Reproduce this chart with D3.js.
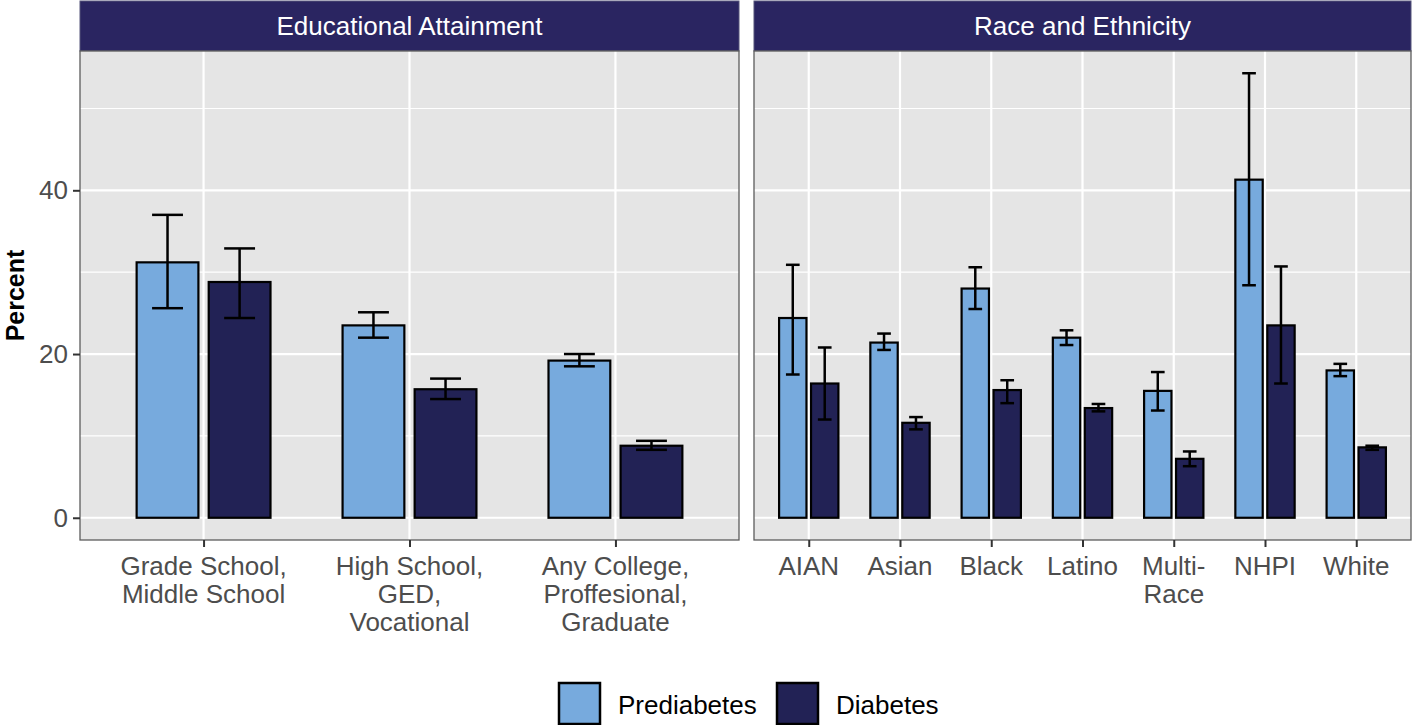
<!DOCTYPE html>
<html>
<head>
<meta charset="utf-8">
<script src="https://cdn.jsdelivr.net/npm/d3@7"></script>
<style>
  body { margin: 0; background: #fff; }
  svg text { font-family: "Liberation Sans", Arial, sans-serif; }
</style>
</head>
<body>
<div id="chart"></div>
<script>
// ---- data ----
const eduCats = ["Grade School,\nMiddle School", "High School,\nGED,\nVocational", "Any College,\nProffesional,\nGraduate"];
const eduPre   = [31.2, 23.5, 19.2];
const eduPreLo = [25.6, 22.0, 18.5];
const eduPreHi = [37.0, 25.1, 20.0];
const eduDia   = [28.8, 15.7, 8.8];
const eduDiaLo = [24.4, 14.5, 8.3];
const eduDiaHi = [32.9, 17.0, 9.4];

const raceCats = ["AIAN", "Asian", "Black", "Latino", "Multi-\nRace", "NHPI", "White"];
const racePre   = [24.4, 21.4, 28.0, 22.0, 15.5, 41.3, 18.0];
const racePreLo = [17.5, 20.5, 25.5, 21.1, 13.1, 28.4, 17.3];
const racePreHi = [30.9, 22.5, 30.6, 22.9, 17.8, 54.3, 18.8];
const raceDia   = [16.4, 11.6, 15.6, 13.4, 7.2, 23.5, 8.6];
const raceDiaLo = [12.0, 10.8, 14.0, 13.0, 6.3, 16.4, 8.3];
const raceDiaHi = [20.8, 12.3, 16.8, 13.9, 8.1, 30.7, 8.8];

const seriesNames = ["Prediabetes", "Diabetes"];
const seriesColors = ["#77aadd", "#222255"];
const yTicks = [0, 20, 40];
const yMinor = [10, 30, 50];

const facetTitles = ["Educational Attainment", "Race and Ethnicity"];

// ---- build rows ----
function rows(cats, pre, preLo, preHi, dia, diaLo, diaHi) {
	const out = [];
	cats.forEach((c, i) => {
		out.push({cat: c, s: 0, v: pre[i], lo: preLo[i], hi: preHi[i]});
		out.push({cat: c, s: 1, v: dia[i], lo: diaLo[i], hi: diaHi[i]});
	});
	return out;
}
const facets = [
	{title: facetTitles[0], cats: eduCats, data: rows(eduCats, eduPre, eduPreLo, eduPreHi, eduDia, eduDiaLo, eduDiaHi), x0: 80, x1: 739},
	{title: facetTitles[1], cats: raceCats, data: rows(raceCats, racePre, racePreLo, racePreHi, raceDia, raceDiaLo, raceDiaHi), x0: 754, x1: 1411}
];

const width = 1412, height = 725,
	stripTop = 1, panelTop = 51, panelBottom = 540,
	fontSize = 26;

const allHi = d3.max(facets.flatMap(f => f.data.map(d => d.hi)));
const pad = allHi * 0.05;

const y = d3.scaleLinear()
	.domain([-pad, allHi + pad])
	.range([panelBottom, panelTop]);

const svg = d3.select("#chart")
	.append("svg")
	.attr("width", width)
	.attr("height", height);

facets.forEach(f => {
	const x = d3.scalePoint()
		.domain(f.cats)
		.range([f.x0, f.x1])
		.padding(0.6);
	const step = x.step();

	// strip
	svg.append("rect")
		.attr("x", f.x0).attr("y", stripTop)
		.attr("width", f.x1 - f.x0).attr("height", panelTop - stripTop)
		.attr("fill", "#2a2561")
		.attr("stroke", "#55557a").attr("stroke-width", 1);
	svg.append("text")
		.attr("x", (f.x0 + f.x1) / 2)
		.attr("y", (stripTop + panelTop) / 2 + 9)
		.attr("text-anchor", "middle")
		.attr("fill", "#fff")
		.style("font-size", fontSize + "px")
		.text(f.title);

	// panel background
	const g = svg.append("g");
	g.append("rect")
		.attr("x", f.x0).attr("y", panelTop)
		.attr("width", f.x1 - f.x0).attr("height", panelBottom - panelTop)
		.attr("fill", "#e5e5e5");

	g.selectAll(".minor").data(yMinor).enter().append("line")
		.attr("x1", f.x0).attr("x2", f.x1)
		.attr("y1", d => y(d)).attr("y2", d => y(d))
		.attr("stroke", "#fff").attr("stroke-width", 1.1);
	g.selectAll(".major").data(yTicks).enter().append("line")
		.attr("x1", f.x0).attr("x2", f.x1)
		.attr("y1", d => y(d)).attr("y2", d => y(d))
		.attr("stroke", "#fff").attr("stroke-width", 2.2);
	g.selectAll(".vmajor").data(f.cats).enter().append("line")
		.attr("x1", d => x(d)).attr("x2", d => x(d))
		.attr("y1", panelTop).attr("y2", panelBottom)
		.attr("stroke", "#fff").attr("stroke-width", 2.2);

	// bars
	const off = s => (s === 0 ? -0.175 : 0.175) * step;
	g.selectAll(".bar").data(f.data).enter().append("rect")
		.attr("x", d => x(d.cat) + off(d.s) - 0.15 * step)
		.attr("width", 0.3 * step)
		.attr("y", d => y(d.v))
		.attr("height", d => y(0) - y(d.v))
		.attr("fill", d => seriesColors[d.s])
		.attr("stroke", "#000").attr("stroke-width", 2.2);

	// error bars
	const eb = g.selectAll(".eb").data(f.data).enter().append("g")
		.attr("stroke", "#000").attr("stroke-width", 2.5);
	eb.append("line")
		.attr("x1", d => x(d.cat) + off(d.s)).attr("x2", d => x(d.cat) + off(d.s))
		.attr("y1", d => y(d.lo)).attr("y2", d => y(d.hi));
	eb.append("line")
		.attr("x1", d => x(d.cat) + off(d.s) - 0.075 * step).attr("x2", d => x(d.cat) + off(d.s) + 0.075 * step)
		.attr("y1", d => y(d.lo)).attr("y2", d => y(d.lo));
	eb.append("line")
		.attr("x1", d => x(d.cat) + off(d.s) - 0.075 * step).attr("x2", d => x(d.cat) + off(d.s) + 0.075 * step)
		.attr("y1", d => y(d.hi)).attr("y2", d => y(d.hi));

	// panel border
	g.append("rect")
		.attr("x", f.x0).attr("y", panelTop)
		.attr("width", f.x1 - f.x0).attr("height", panelBottom - panelTop)
		.attr("fill", "none")
		.attr("stroke", "#5c5c5c").attr("stroke-width", 1.3);

	// x axis
	const xAxis = svg.append("g")
		.attr("transform", `translate(0,${panelBottom})`)
		.call(d3.axisBottom(x).tickSize(7).tickFormat(""));
	xAxis.select(".domain").remove();
	xAxis.selectAll(".tick line").attr("stroke", "#333").attr("stroke-width", 2);
	f.cats.forEach(c => {
		const t = svg.append("text")
			.attr("x", x(c))
			.attr("y", panelBottom + 35)
			.attr("text-anchor", "middle")
			.attr("fill", "#4d4d4d")
			.style("font-size", fontSize + "px");
		c.split("\n").forEach((line, i) => {
			t.append("tspan").attr("x", x(c)).attr("dy", i === 0 ? 0 : 28).text(line);
		});
	});
});

// y axis (left panel only)
const yAxis = svg.append("g")
	.attr("transform", `translate(${facets[0].x0},0)`)
	.call(d3.axisLeft(y).tickValues(yTicks).tickSize(7).tickPadding(5));
yAxis.select(".domain").remove();
yAxis.selectAll(".tick line").attr("stroke", "#333").attr("stroke-width", 2);
yAxis.selectAll(".tick text")
	.attr("fill", "#4d4d4d")
	.style("font-size", fontSize + "px")
	.style("font-family", "'Liberation Sans', Arial, sans-serif");

svg.append("text")
	.attr("transform", `translate(24,${(panelTop + panelBottom) / 2}) rotate(-90)`)
	.attr("text-anchor", "middle")
	.attr("font-weight", "bold")
	.attr("fill", "#000")
	.style("font-size", "25px")
	.text("Percent");

// legend
const legendX = [559, 777];
const legend = svg.append("g");
seriesNames.forEach((name, i) => {
	legend.append("rect")
		.attr("x", legendX[i]).attr("y", 683)
		.attr("width", 41).attr("height", 41)
		.attr("fill", seriesColors[i])
		.attr("stroke", "#000").attr("stroke-width", 2.5);
	legend.append("text")
		.attr("x", legendX[i] + 59)
		.attr("y", 714)
		.attr("fill", "#000")
		.style("font-size", fontSize + "px")
		.text(name);
});
</script>
</body>
</html>
